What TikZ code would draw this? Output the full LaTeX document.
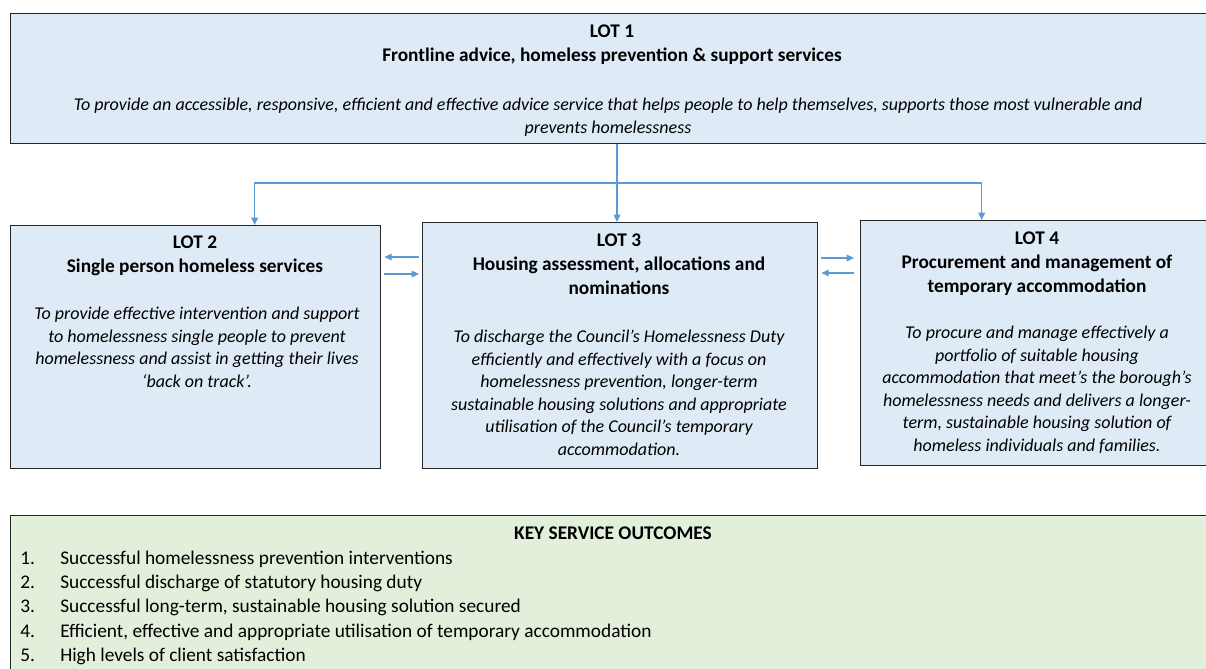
\documentclass[tikz,border=0pt]{standalone}
\usepackage{fontspec}
\setmainfont{Carlito}
\usetikzlibrary{arrows.meta,calc,positioning}

\definecolor{lotblue}{HTML}{DEEBF7}
\definecolor{keygreen}{HTML}{E2EFDA}
\definecolor{linkblue}{HTML}{5B9BD5}

\tikzset{
  lotbox/.style={draw=black!85, line width=1pt, fill=lotblue, anchor=north west, inner sep=0pt},
  keybox/.style={lotbox, fill=keygreen},
  lottitle/.style={font=\fontsize{14.5}{18}\selectfont\bfseries, align=center, anchor=north, inner sep=0pt},
  lotdesc/.style={font=\fontsize{13.5}{16.9}\selectfont\itshape, align=center, anchor=north, inner sep=0pt},
  outcome/.style={font=\fontsize{14.5}{18}\selectfont, anchor=base west, inner sep=0pt},
  link/.style={draw=linkblue, line width=0.9pt, -{Triangle[length=5.5pt,width=5pt]}}
}

\begin{document}
\begin{tikzpicture}[x=0.75pt,y=-0.75pt]
  \useasboundingbox (0,0) rectangle (1206,668);

  % Boxes
  \node[lotbox, minimum width=903pt, minimum height=97.5pt] (lot1) at (10,13) {};
  \node[lotbox, minimum width=277.5pt, minimum height=182.25pt] (lot2) at (10,225) {};
  \node[lotbox, minimum width=296.25pt, minimum height=184.5pt] (lot3) at (422,222) {};
  \node[lotbox, minimum width=265.5pt, minimum height=183.75pt] (lot4) at (860,220) {};
  \node[keybox, minimum width=903pt, minimum height=123.75pt] (outcomes) at (10,515) {};

  % Texts of the lots
  \node[lottitle] (lot1title) at (612,25) {LOT 1\\Frontline advice, homeless prevention \& support services};
  \node[lotdesc] (lot1desc) at (608,98) {To provide an accessible, responsive, efficient and effective advice service that helps people to help themselves, supports those most vulnerable and\\prevents homelessness};

  \node[lottitle] (lot2title) at (195,235.5) {LOT 2\\Single person homeless services};
  \node[lotdesc] (lot2desc) at (197,307) {To provide effective intervention and support\\to homelessness single people to prevent\\homelessness and assist in getting their lives\\‘back on track’.};

  \node[lottitle] (lot3title) at (619,233.5) {LOT 3\\Housing assessment, allocations and\\nominations};
  \node[lotdesc] (lot3desc) at (619,330) {To discharge the Council’s Homelessness Duty\\efficiently and effectively with a focus on\\homelessness prevention, longer-term\\sustainable housing solutions and appropriate\\utilisation of the Council’s temporary\\accommodation.};

  \node[lottitle] (lot4title) at (1037,232) {LOT 4\\Procurement and management of\\temporary accommodation};
  \node[lotdesc] (lot4desc) at (1037,326) {To procure and manage effectively a\\portfolio of suitable housing\\accommodation that meet’s the borough’s\\homelessness needs and delivers a longer-\\term, sustainable housing solution of\\homeless individuals and families.};

  % Key service outcomes
  \node[lottitle] (keytitle) at (613,527) {KEY SERVICE OUTCOMES};
  \foreach \i/\txt in {1/{Successful homelessness prevention interventions},
                       2/{Successful discharge of statutory housing duty},
                       3/{Successful long-term, sustainable housing solution secured},
                       4/{Efficient, effective and appropriate utilisation of temporary accommodation},
                       5/{High levels of client satisfaction}} {
    \node[outcome] (num\i) at (20,540.2+24.25*\i) {\i.};
    \node[outcome] (out\i) at (60,540.2+24.25*\i) {\txt};
  }

  % Links from lot 1
  \coordinate (split) at (617,183);
  \draw[link] (lot1.south -| split) -- (lot3.north -| split);
  \draw[link] (split) -| ($(lot2.north)+(59,0)$);
  \draw[link] (split) -| ($(lot4.north)+(-56,0)$);

  % Links between the lots
  \draw[link] ($(lot3.north west)+(-3,35)$) -- ($(lot2.north east)+(3,32)$);
  \draw[link] ($(lot2.north east)+(3,49)$) -- ($(lot3.north west)+(-3,52)$);
  \draw[link] ($(lot3.north east)+(3,36)$) -- ($(lot4.north west)+(-6,38)$);
  \draw[link] ($(lot4.north west)+(-6,53)$) -- ($(lot3.north east)+(3,51)$);
\end{tikzpicture}
\end{document}
